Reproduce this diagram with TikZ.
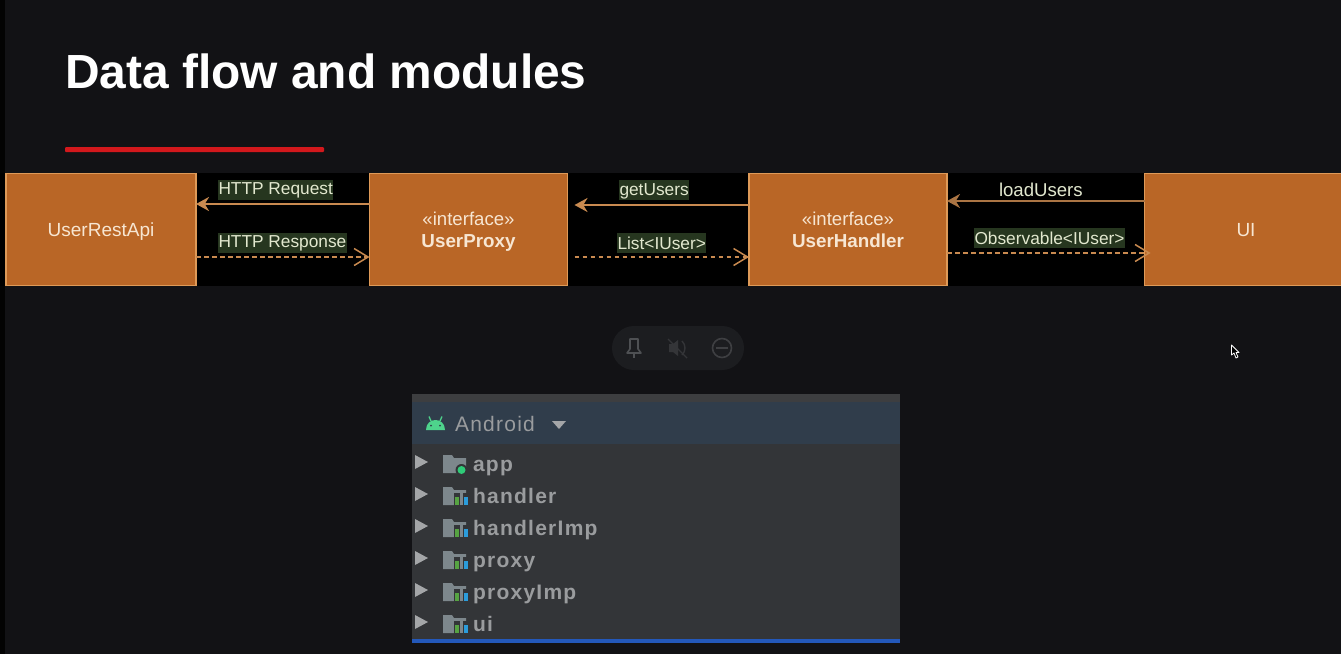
\documentclass[tikz,border=0pt]{standalone}
\usepackage{fontspec}
\setmainfont{Liberation Sans}
\newfontfamily\rowf[LetterSpace=6]{Liberation Sans}
\usetikzlibrary{arrows.meta}
\definecolor{bgc}{HTML}{121215}
\definecolor{boxc}{HTML}{B96626}
\definecolor{edgec}{HTML}{DE9A58}
\definecolor{arrc}{HTML}{C98A50}
\definecolor{hlc}{HTML}{26361F}
\definecolor{lblc}{HTML}{E2E8CF}
\definecolor{boxt}{HTML}{F7E6D2}
\definecolor{pnl}{HTML}{333538}
\definecolor{pnlh}{HTML}{303D4B}
\definecolor{pnlt}{HTML}{3D3E40}
\definecolor{txtg}{HTML}{9A9C9E}
\definecolor{foldc}{HTML}{7D878C}
\definecolor{grn}{HTML}{2FCB78}
\definecolor{barg}{HTML}{56A342}
\definecolor{barb}{HTML}{2B9CDB}
\definecolor{blueb}{HTML}{2358BA}
\definecolor{pillc}{HTML}{1C1D20}
\definecolor{iconc}{HTML}{4E5053}
\definecolor{icond}{HTML}{343538}
\definecolor{redl}{HTML}{D3181C}
\newcommand{\nodepth}[1]{\raisebox{0pt}[\height][0pt]{#1}}
\tikzset{
  every node/.style={inner sep=0pt,outer sep=0pt},
  umlbox/.style={draw=edgec,line width=1.2pt,fill=boxc,text=boxt,minimum height=112pt,align=center,font=\fontsize{18.8}{22}\selectfont},
  reqarrow/.style={draw=arrc,line width=2.2pt,-{Stealth[length=13pt,width=14pt]}},
  resparrow/.style={draw=arrc,line width=1.9pt,dash pattern=on 4.5pt off 3.5pt,-{Straight Barb[length=14pt,width=17pt,line width=1.5pt]}},
  hl/.style={fill=hlc,text=lblc,inner xsep=0.5pt,minimum height=20pt,font=\fontsize{17.3}{20}\selectfont},
  rowtxt/.style={anchor=base west,text=txtg,font=\rowf\bfseries\fontsize{21}{24}\selectfont},
  pics/modfolder/.style={code={
    \fill[foldc] (443,-9) -- (452,-9) -- (454,-6) -- (466,-6) -- (466,9) -- (443,9) -- cycle;
    \fill[pnl] (453.5,-3) rectangle (468.5,10);
    \fill[foldc] (459.5,-4) rectangle (463,9);
    \fill[barg] (455,1) rectangle (458.5,9);
    \fill[barb] (464,1) rectangle (468,9);
  }},
  rowtri/.style={fill=txtg!90!white,draw=none}
}
\begin{document}
\begin{tikzpicture}[x=1pt,y=-1pt]
\useasboundingbox (0,0) rectangle (1341,654);
\fill[bgc] (0,0) rectangle (1341,654);
\fill[black!85!bgc] (0,0) rectangle (5,654);
\node[anchor=base west,text=white,font=\bfseries\fontsize{47.9}{56}\selectfont] (title) at (65,88) {Data flow and modules};
\fill[redl,rounded corners=1pt] (65,147) rectangle (324,152);
% black band
\fill[black] (0,173) rectangle (1341,286);
% boxes
\node[umlbox,minimum width=190pt,font=\fontsize{19}{22}\selectfont] (api) at (101,229.5) {\nodepth{UserRestApi}};
\node[umlbox,minimum width=198pt] (proxy) at (468.5,229.5) {\fontsize{18.6}{22}\selectfont «interface»\\[0pt]\bfseries \nodepth{UserProxy}};
\node[umlbox,minimum width=198pt] (handler) at (848,229.5) {\fontsize{18.6}{22}\selectfont «interface»\\[0pt]\bfseries UserHandler};
\node[umlbox,minimum width=210pt,text opacity=0] (ui) at (1249.5,229.5) {};
\node[text=boxt,font=\fontsize{19}{22}\selectfont] (uitext) at (1246,230) {UI};
% connectors
\draw[reqarrow] ([yshift=25.5pt]proxy.west) -- ([yshift=25.5pt]api.east);
\draw[resparrow] ([yshift=-27.5pt]api.east) -- ([yshift=-27.5pt]proxy.west);
\coordinate (proxyR) at ([xshift=7pt,yshift=24.5pt]proxy.east);
\draw[reqarrow] ([yshift=24.5pt]handler.west) -- (proxyR);
\coordinate (proxyS) at ([xshift=7pt,yshift=-27.5pt]proxy.east);
\draw[resparrow] (proxyS) -- ([yshift=-27.5pt]handler.west);
\draw[reqarrow,draw=arrc!85!black] ([yshift=28.5pt]ui.west) -- ([yshift=28.5pt]handler.east);
\draw[resparrow] ([yshift=-23.5pt]handler.east) -- ([xshift=6pt,yshift=-23.5pt]ui.west);
% labels
\node[hl,anchor=west] (l1) at (218,190) {HTTP Request};
\node[hl,anchor=west] (l2) at (218,243) {HTTP Response};
\node[hl,anchor=west] (l3) at (619,189.5) {\nodepth{\raisebox{-1pt}{getUsers}}};
\node[hl,anchor=west] (l4) at (617,243) {List<IUser>};
\node[hl,anchor=west] (l5) at (974,238) {Observable<IUser>};
\node[text=lblc,anchor=west,font=\fontsize{18.6}{22}\selectfont] (l6) at (999,190) {loadUsers};
% pill
\fill[pillc,rounded corners=22pt] (612,326) rectangle (744,370);
\draw[iconc,line width=1.6pt,line join=round] (630,339) -- (638,339) -- (638,349) -- (641,353) -- (627,353) -- (630,349) -- cycle;
\draw[iconc,line width=1.6pt] (634,353) -- (634,358);
\fill[icond] (669,344) -- (673,344) -- (678,340) -- (678,356) -- (673,352) -- (669,352) -- cycle;
\draw[icond,line width=1.4pt] (682,341) .. controls (686,345) and (686,351) .. (682,355);
\draw[icond,line width=1.4pt] (668,339) -- (687,358);
\draw[icond!95!white,line width=1.6pt] (722,348) circle (9.5);
\draw[icond!95!white,line width=1.6pt] (716,348) -- (728,348);
% cursor
\filldraw[fill=black,draw=white,line width=.8pt,line join=round] (1231.5,345) -- (1231.5,355) -- (1234,353) -- (1236,358) -- (1238,357) -- (1236,352.5) -- (1239,352.5) -- cycle;
% panel
\fill[pnl] (412,394) rectangle (900,640);
\fill[pnlt] (412,394) rectangle (900,402);
\fill[pnlh] (412,402) rectangle (900,444);
\fill[blueb] (412,639) rectangle (900,643);
% android logo
\fill[grn!85!white] (426,430) .. controls (426,423) and (431,420) .. (435.5,420) .. controls (440,420) and (445,423) .. (445,430) -- cycle;
\draw[grn!85!white,line width=1.3pt] (431,421) -- (429,416.5) (440,421) -- (442,416.5);
\fill[pnlh] (431,425.5) circle (1); \fill[pnlh] (440,425.5) circle (1);
\node[anchor=base west,text=txtg,font=\rowf\fontsize{21}{24}\selectfont] (android) at (455,431) {Android};
\fill[txtg!90!white] (552,421) -- (566,421) -- (559,429) -- cycle;
% rows
\foreach \r/\ty in {0/462,1/494,2/526,3/558,4/590,5/622}{
  \fill[rowtri] (415,\ty-7) -- (428,\ty) -- (415,\ty+7) -- cycle;
}
\fill[foldc] (443,455) -- (452,455) -- (454,458) -- (466,458) -- (466,473) -- (443,473) -- cycle;
\fill[pnl] (461.5,470) circle (6);
\fill[grn] (461.5,470) circle (4);
\node[rowtxt] (app) at (473,471) {app};
\foreach \nm/\ty/\lab in {handler/496/handler,himp/528/handlerImp,prox/560/proxy,pimp/592/proxyImp,uimod/624/ui}{
  \begin{scope}[shift={(0,\ty)}]
    \pic {modfolder};
  \end{scope}
  \node[rowtxt] (\nm) at (473,\ty+7) {\lab};
}
\end{tikzpicture}
\end{document}
